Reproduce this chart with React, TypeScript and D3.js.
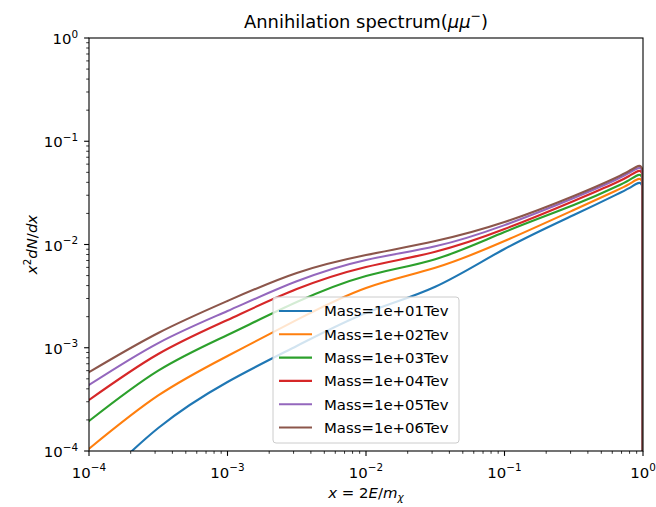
import React from "react";
import * as d3 from "d3";

// Sampled energy fractions x = 2E/m_chi (the spectrum ends at x = 1)
const xValues = [1e-4, 3.162e-4, 1e-3, 3.162e-3, 1e-2, 3.162e-2, 0.1, 0.3162, 0.631, 0.794, 0.891, 0.955, 0.9886];
const xEnd = 1.0;
const endValue = 1e-7;

// x^2 dN/dx for each dark-matter mass
const massLabels = ["Mass=1e+01Tev", "Mass=1e+02Tev", "Mass=1e+03Tev", "Mass=1e+04Tev", "Mass=1e+05Tev", "Mass=1e+06Tev"];
const spec1e1 = [4e-5, 1.67e-4, 4.66e-4, 1.04e-3, 2.17e-3, 3.9e-3, 9.05e-3, 1.93e-2, 3.01e-2, 3.52e-2, 3.85e-2, 3.94e-2, 3.69e-2];
const spec1e2 = [1.05e-4, 3.45e-4, 8.32e-4, 1.86e-3, 3.79e-3, 5.95e-3, 1.08e-2, 2.16e-2, 3.3e-2, 3.85e-2, 4.21e-2, 4.31e-2, 4.03e-2];
const spec1e3 = [1.95e-4, 6.0e-4, 1.33e-3, 2.77e-3, 4.95e-3, 7.2e-3, 1.32e-2, 2.41e-2, 3.6e-2, 4.21e-2, 4.61e-2, 4.71e-2, 4.41e-2];
const spec1e4 = [3.12e-4, 8.7e-4, 1.86e-3, 3.7e-3, 6.06e-3, 8.5e-3, 1.41e-2, 2.64e-2, 3.94e-2, 4.61e-2, 5.04e-2, 5.15e-2, 4.8e-2];
const spec1e5 = [4.36e-4, 1.11e-3, 2.27e-3, 4.4e-3, 7.08e-3, 9.6e-3, 1.54e-2, 2.82e-2, 4.21e-2, 4.93e-2, 5.38e-2, 5.5e-2, 5.15e-2];
const spec1e6 = [5.8e-4, 1.39e-3, 2.84e-3, 5.3e-3, 7.9e-3, 1.08e-2, 1.65e-2, 2.95e-2, 4.41e-2, 5.15e-2, 5.63e-2, 5.76e-2, 5.4e-2];
const seriesValues = [spec1e1, spec1e2, spec1e3, spec1e4, spec1e5, spec1e6];
const colors = ["#1f77b4", "#ff7f0e", "#2ca02c", "#d62728", "#9467bd", "#8c564b"];

const xTickExps = [-4, -3, -2, -1, 0];
const yTickExps = [-4, -3, -2, -1, 0];

const W = 656;
const H = 507;
const M = { left: 89, right: 643, top: 38, bottom: 451 };
const FS = 14.9; // base font size
const FS_SUP = 10.4;

function Pow10({ e, x, y, anchor }: { e: number; x: number; y: number; anchor: string }) {
  const exp = e < 0 ? "\u2212" + Math.abs(e) : String(e);
  return (
    <text x={x} y={y} textAnchor={anchor} fontSize={FS} fill="#000">
      10<tspan dy={-6.5} fontSize={FS_SUP}>{exp}</tspan>
    </text>
  );
}

export default function App() {
  const x = d3.scaleLog().domain([1e-4, 1]).range([M.left, M.right]);
  const y = d3.scaleLog().domain([1e-4, 1]).range([M.bottom, M.top]);
  const line = d3
    .line<[number, number]>()
    .x((d) => x(d[0]))
    .y((d) => y(d[1]))
    .curve(d3.curveNatural);

  const minorX: number[] = [];
  const minorY: number[] = [];
  for (let e = -4; e < 0; e++) {
    for (let m = 2; m <= 9; m++) {
      minorX.push(m * Math.pow(10, e));
      minorY.push(m * Math.pow(10, e));
    }
  }

  const legend = { x: 273, y: 297, w: 186, h: 146, row: 23.3 };

  // smooth spectrum, then the sharp cut-off at x = 1
  const specPath = (vals: number[]) =>
    (line(xValues.map((xv, j) => [xv, vals[j]] as [number, number])) || "") +
    `L${x(xEnd)},${y(endValue)}`;

  return (
    <svg width={W} height={H} style={{ position: "absolute", left: 0, top: 0, fontFamily: "DejaVu Sans" }}>
      <rect width={W} height={H} fill="#fff" />
      <defs>
        <clipPath id="plotArea">
          <rect x={M.left} y={M.top} width={M.right - M.left} height={M.bottom - M.top} />
        </clipPath>
      </defs>

      <g clipPath="url(#plotArea)">
        {seriesValues.map((vals, i) => (
          <path
            key={i}
            d={specPath(vals)}
            fill="none"
            stroke={colors[i]}
            strokeWidth={2.1}
            strokeLinejoin="round"
            strokeLinecap="square"
          />
        ))}
      </g>

      <rect
        x={M.left}
        y={M.top}
        width={M.right - M.left}
        height={M.bottom - M.top}
        fill="none"
        stroke="#000"
        strokeWidth={1.1}
      />

      {/* x ticks */}
      {xTickExps.map((e) => (
        <g key={"xt" + e}>
          <line x1={x(Math.pow(10, e))} x2={x(Math.pow(10, e))} y1={M.bottom} y2={M.bottom + 4.9} stroke="#000" strokeWidth={1.1} />
          <Pow10 e={e} x={x(Math.pow(10, e))} y={M.bottom + 26.5} anchor="middle" />
        </g>
      ))}
      {minorX.map((v, i) => (
        <line key={"xm" + i} x1={x(v)} x2={x(v)} y1={M.bottom} y2={M.bottom + 2.8} stroke="#000" strokeWidth={0.8} />
      ))}

      {/* y ticks */}
      {yTickExps.map((e) => (
        <g key={"yt" + e}>
          <line x1={M.left - 4.9} x2={M.left} y1={y(Math.pow(10, e))} y2={y(Math.pow(10, e))} stroke="#000" strokeWidth={1.1} />
          <Pow10 e={e} x={M.left - 11} y={y(Math.pow(10, e)) + 6} anchor="end" />
        </g>
      ))}
      {minorY.map((v, i) => (
        <line key={"ym" + i} x1={M.left - 2.8} x2={M.left} y1={y(v)} y2={y(v)} stroke="#000" strokeWidth={0.8} />
      ))}

      {/* title */}
      <text x={(M.left + M.right) / 2} y={27.5} textAnchor="middle" fontSize={17.9} fill="#000">
        Annihilation spectrum(<tspan fontStyle="italic">μμ</tspan>
        <tspan dy={-7.5} fontSize={12.5}>−</tspan>
        <tspan dy={7.5}>)</tspan>
      </text>

      {/* axis labels */}
      <text x={(M.left + M.right) / 2} y={498} textAnchor="middle" fontSize={FS} fill="#000">
        <tspan fontStyle="italic">x</tspan> = 2<tspan fontStyle="italic">E</tspan>/<tspan fontStyle="italic">m</tspan>
        <tspan dy={3} fontSize={FS_SUP} fontStyle="italic">χ</tspan>
      </text>
      <text transform={`translate(37, ${(M.top + M.bottom) / 2}) rotate(-90)`} textAnchor="middle" fontSize={FS} fill="#000">
        <tspan fontStyle="italic">x</tspan>
        <tspan dy={-6.5} fontSize={FS_SUP}>2</tspan>
        <tspan dy={6.5} fontStyle="italic">dN</tspan>/<tspan fontStyle="italic">dx</tspan>
      </text>

      {/* legend */}
      <g>
        <rect x={legend.x} y={legend.y} width={legend.w} height={legend.h} rx={3} fill="#fff" fillOpacity={0.8} stroke="#cccccc" strokeWidth={1} />
        {massLabels.map((lab, i) => {
          const ry = legend.y + 14 + i * legend.row;
          return (
            <g key={lab}>
              <line x1={legend.x + 6} x2={legend.x + 39} y1={ry} y2={ry} stroke={colors[i]} strokeWidth={2.1} />
              <text x={legend.x + 51} y={ry + 5.3} fontSize={FS} fill="#000">{lab}</text>
            </g>
          );
        })}
      </g>
    </svg>
  );
}
